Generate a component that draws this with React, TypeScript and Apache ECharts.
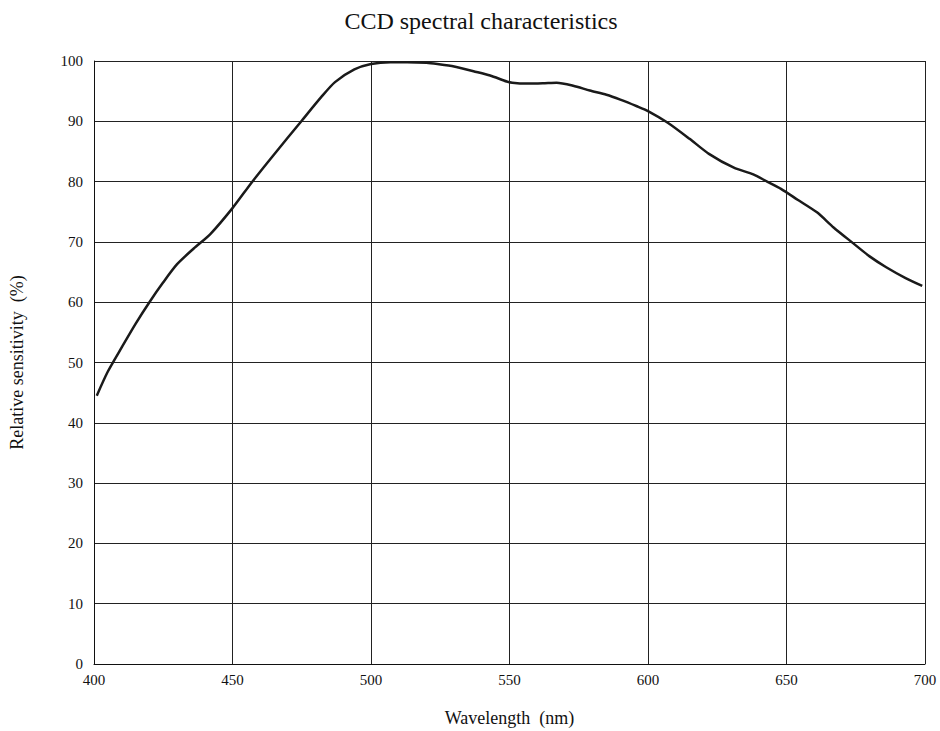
import React, { useEffect, useRef } from "react";
import * as echarts from "echarts";

const wavelengths = [401, 405, 410, 415, 420, 425, 430, 436, 442, 450, 457, 465, 475, 482, 487, 494, 500, 507, 513, 520, 524, 530, 537, 543, 549, 551, 556, 562, 567, 573, 579, 585, 590, 596, 600, 607, 615, 622, 631, 638, 643, 648, 654, 661, 667, 674, 680, 686, 693, 699];
const sensitivity = [44.5, 48.5, 52.5, 56.4, 60.0, 63.3, 66.3, 68.9, 71.3, 75.6, 79.9, 84.5, 90.1, 94.0, 96.5, 98.6, 99.5, 99.8, 99.8, 99.7, 99.5, 99.1, 98.3, 97.6, 96.6, 96.4, 96.25, 96.3, 96.4, 95.9, 95.1, 94.4, 93.6, 92.5, 91.7, 89.8, 87.1, 84.6, 82.3, 81.2, 80.0, 78.8, 77.0, 74.9, 72.4, 69.8, 67.6, 65.8, 64.0, 62.7];

const FONT = "'Liberation Serif', 'Times New Roman', serif";

export default function App() {
  const ref = useRef<HTMLDivElement>(null);
  useEffect(() => {
    if (!ref.current) return;
    const chart = echarts.init(ref.current, null, { renderer: "svg" });
    chart.setOption({
      animation: false,
      backgroundColor: "#ffffff",
      textStyle: { fontFamily: FONT },
      title: {
        text: "CCD spectral characteristics",
        left: 476,
        top: 4,
        textAlign: "center",
        textStyle: { fontFamily: FONT, fontSize: 24, fontWeight: "normal", color: "#111" },
      },
      grid: { left: 94, right: 15, top: 61, bottom: 67, containLabel: false, outerBoundsMode: "none" },
      xAxis: {
        type: "value",
        min: 400,
        max: 700,
        interval: 50,
        name: "Wavelength\u00a0 (nm)",
        nameLocation: "middle",
        nameGap: 45,
        nameTextStyle: { fontFamily: FONT, fontSize: 18, color: "#111" },
        axisLine: { show: true, lineStyle: { color: "#111", width: 1 } },
        axisTick: { show: false },
        axisLabel: { fontFamily: FONT, fontSize: 15, color: "#111", margin: 8 },
        splitLine: { show: true, lineStyle: { color: "#222", width: 1 } },
      },
      yAxis: {
        type: "value",
        min: 0,
        max: 100,
        interval: 10,
        name: "Relative sensitivity\u00a0 (%)",
        nameLocation: "middle",
        nameGap: 68,
        nameTextStyle: { fontFamily: FONT, fontSize: 18, color: "#111" },
        axisLine: { show: true, lineStyle: { color: "#111", width: 1 } },
        axisTick: { show: false },
        axisLabel: { fontFamily: FONT, fontSize: 15, color: "#111", margin: 11 },
        splitLine: { show: true, lineStyle: { color: "#222", width: 1 } },
      },
      series: [
        {
          type: "line",
          data: wavelengths.map((w, i) => [w, sensitivity[i]]),
          smooth: 0.25,
          showSymbol: false,
          lineStyle: { color: "#1a1a1a", width: 2.5 },
        },
      ],
    });
    return () => chart.dispose();
  }, []);
  return (
    <div
      ref={ref}
      style={{ position: "fixed", left: 0, top: 0, width: 940, height: 731, background: "#fff" }}
    />
  );
}
